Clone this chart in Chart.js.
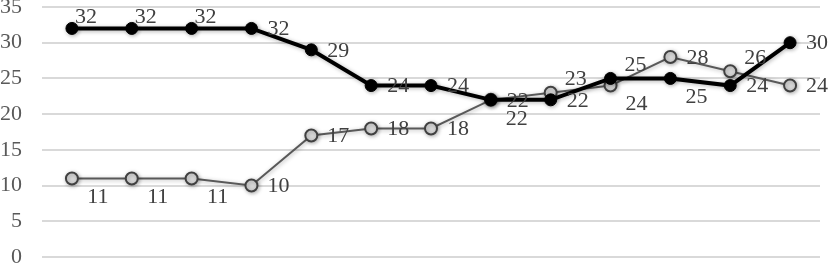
<!DOCTYPE html>
<html>
<head>
<meta charset="utf-8">
<script src="https://cdn.jsdelivr.net/npm/chart.js@4/dist/chart.umd.min.js"></script>
<style>
  html, body { margin: 0; padding: 0; background: #fff; }
  #wrap { width: 831px; height: 265px; }
</style>
</head>
<body>
<div id="wrap"><canvas id="myChart" width="831" height="265"></canvas></div>
<script>
// data
var categories = ["1","2","3","4","5","6","7","8","9","10","11","12","13"];
var seriesA = [32, 32, 32, 32, 29, 24, 24, 22, 22, 25, 25, 24, 30];
var seriesB = [11, 11, 11, 10, 17, 18, 18, 22, 23, 24, 28, 26, 24];
var yTicks = [0, 5, 10, 15, 20, 25, 30, 35];

// where each value label sits relative to its point
var placeA = ['a','a','a','r','r','r','r','r','r','ar','dr','r','r'];
var placeB = ['dr','dr','dr','r','r','r','r','dr','ar','dr','r','ar','r'];
var nudge = {
    r:  [27, 1],
    a:  [14, -11],
    ar: [25, -13],
    dr: [26, 19]
};

var ctx = document.getElementById('myChart').getContext("2d");

var shadowPlugin = {
    id: 'shadow',
    beforeDatasetDraw: function(chart, args) {
        var c = chart.ctx;
        c.save();
        c.shadowColor = 'rgba(0,0,0,0.3)';
        c.shadowBlur = 4;
        c.shadowOffsetX = 1;
        c.shadowOffsetY = 1;
    },
    afterDatasetDraw: function(chart, args) {
        chart.ctx.restore();
    }
};

var labelPlugin = {
    id: 'valueLabels',
    afterDatasetsDraw: function(chart) {
        var c = chart.ctx;
        c.save();
        c.font = '22px "Liberation Serif", "Times New Roman", serif';
        c.fillStyle = '#404040';
        c.textAlign = 'center';
        c.textBaseline = 'middle';
        var places = [placeA, placeB];
        chart.data.datasets.forEach(function(ds, di) {
            var meta = chart.getDatasetMeta(di);
            meta.data.forEach(function(pt, i) {
                var n = nudge[places[di][i]];
                c.fillText(String(ds.data[i]), pt.x + n[0], pt.y + n[1]);
            });
        });
        c.restore();
    }
};

var myGraph = new Chart(ctx, {
    type: "line",
    data: {
        labels: categories,
        datasets: [
            {
                data: seriesA,
                borderColor: "#000",
                borderWidth: 4,
                pointRadius: 6,
                pointBackgroundColor: "#000",
                pointBorderColor: "#000",
                pointBorderWidth: 1,
                tension: 0,
                clip: false
            },
            {
                data: seriesB,
                borderColor: "#595959",
                borderWidth: 2,
                pointRadius: 6,
                pointBackgroundColor: "#d9d9d9",
                pointBorderColor: "#404040",
                pointBorderWidth: 2,
                tension: 0,
                clip: false
            }
        ]
    },
    options: {
        responsive: false,
        animation: false,
        layout: {
            autoPadding: false,
            padding: { top: 7, bottom: 8, left: 0, right: 11 }
        },
        scales: {
            x: {
                display: false,
                offset: true
            },
            y: {
                min: 0,
                max: 35,
                afterBuildTicks: function(scale) {
                    scale.ticks = yTicks.map(function(v) { return { value: v }; });
                },
                afterFit: function(scale) {
                    scale.width = 42;
                    scale.paddingTop = 0;
                    scale.paddingBottom = 0;
                },
                border: { display: false },
                grid: {
                    color: "#d9d9d9",
                    lineWidth: 2,
                    drawTicks: false
                },
                ticks: {
                    padding: 20,
                    color: "#595959",
                    font: { family: '"Liberation Serif", "Times New Roman", serif', size: 22 }
                }
            }
        },
        plugins: {
            legend: { display: false },
            tooltip: { enabled: false }
        }
    },
    plugins: [shadowPlugin, labelPlugin]
});
</script>
</body>
</html>
